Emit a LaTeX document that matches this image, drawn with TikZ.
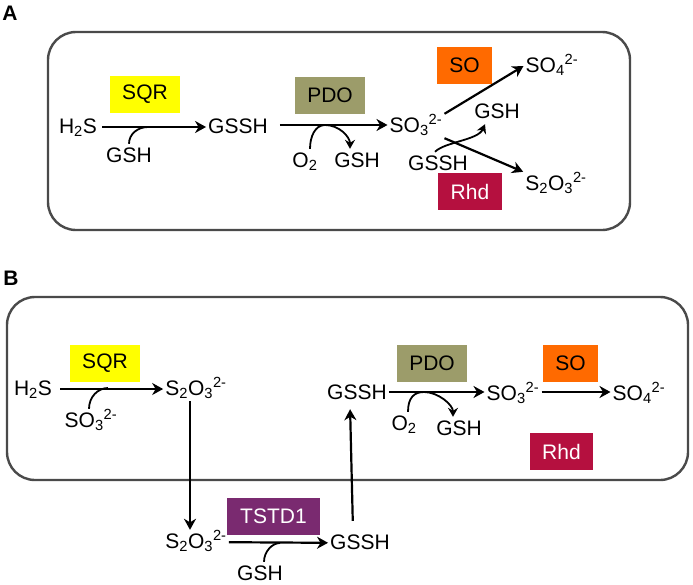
\documentclass[tikz,border=0pt]{standalone}
\usepackage{fontspec}
\setmainfont{Liberation Sans}
\usetikzlibrary{arrows.meta}
\definecolor{SqrYellow}{HTML}{FFFF00}
\definecolor{PdoOlive}{HTML}{9C9C6A}
\definecolor{SoOrange}{HTML}{FF6A00}
\definecolor{RhdCrimson}{HTML}{B5103F}
\definecolor{TstdPurple}{HTML}{7A2A70}
\definecolor{FrameGray}{HTML}{4A4A4A}

\begin{document}
\begin{tikzpicture}[x=1pt, y=-1pt,
  every node/.style={font=\fontsize{21}{25}\selectfont},
  chem/.style={inner sep=2pt, text height=16pt, text depth=4pt},
  enzyme/.style={minimum height=37pt, inner sep=0pt},
  panellabel/.style={font=\fontsize{21}{25}\selectfont\bfseries},
  flow/.style={line width=2.2pt, -{Stealth[length=11pt,width=12pt,inset=3.5pt]}},
  side/.style={line width=1.8pt},
  sidetip/.style={line width=1.8pt, -{Stealth[length=9pt,width=10pt,inset=3pt]}},
  panel/.style={draw=FrameGray, line width=2.4pt, rounded corners=28pt}]
  \useasboundingbox (0,0) rectangle (693,584);

  % panel A
  \draw[panel] (48,32) rectangle (630,230);
  \node[panellabel] (labA) at (10,13) {A};

  \node[enzyme, fill=SqrYellow, minimum width=70pt] (sqrA) at (145,94.5) {SQR};
  \node[enzyme, fill=PdoOlive, minimum width=70pt] (pdoA) at (330,95) {PDO};
  \node[enzyme, fill=SoOrange, minimum width=55pt] (soA) at (464.5,65) {SO};
  \node[enzyme, fill=RhdCrimson, text=white, minimum width=64pt] (rhdA) at (470,191.5) {Rhd};

  \node[chem] (h2sA) at (78,127) {H\textsubscript{2}S};
  \node[chem] (gsshA) at (238,127) {GSSH};
  \node[chem] (so3A) at (416,126) {SO\textsubscript{3}\textsuperscript{2-}};
  \node[chem] (so4A) at (552,66) {SO\textsubscript{4}\textsuperscript{2-}};
  \node[chem] (s2o3A) at (556,184) {S\textsubscript{2}O\textsubscript{3}\textsuperscript{2-}};
  \node[chem] (gshA) at (129,156) {GSH};
  \node[chem] (o2A) at (305,161) {O\textsubscript{2}};
  \node[chem] (gshAb) at (357,161) {GSH};
  \node[chem] (gshAc) at (497,112) {GSH};
  \node[chem] (gsshAb) at (438,164) {GSSH};

  \coordinate (sqrJoinA) at (148,127);
  \coordinate (pdoJoinA) at (325,125);

  \draw[flow, shorten <=3pt] (h2sA) -- (gsshA);
  \draw[flow, shorten <=10pt] (gsshA.east |- pdoJoinA) -- (so3A.west |- pdoJoinA);
  \draw[flow] (so3A.north east) -- (so4A.west);
  \draw[flow] (so3A.south east) -- (s2o3A.north west);

  \draw[side] (gshA.north) .. controls +(0,-10) and +(-10,0) .. (sqrJoinA);
  \draw[sidetip] ([xshift=5pt]o2A.north) .. controls +(0,-12) and +(-10,0) .. (pdoJoinA)
    .. controls +(14,0) and +(0,-12) .. ([xshift=-7pt]gshAb.north);
  \draw[sidetip] ([xshift=-3pt]gsshAb.north) .. controls +(10,-10) and +(-7,16) .. ([xshift=-12pt]gshAc.south);

  % panel B
  \draw[panel] (7,297) rectangle (688,480);
  \node[panellabel] (labB) at (11,278) {B};

  \node[enzyme, fill=SqrYellow, minimum width=70pt] (sqrB) at (105,363) {SQR};
  \node[enzyme, fill=PdoOlive, minimum width=70pt] (pdoB) at (432,363.5) {PDO};
  \node[enzyme, fill=SoOrange, minimum width=55pt] (soB) at (570.5,363.5) {SO};
  \node[enzyme, fill=RhdCrimson, text=white, minimum width=63pt] (rhdB) at (561.5,451.5) {Rhd};
  \node[enzyme, fill=TstdPurple, text=white, minimum width=93pt] (tstdB) at (273.5,516.5) {TSTD1};

  \node[chem] (h2sB) at (33,389) {H\textsubscript{2}S};
  \node[chem] (so3Ba) at (91,421) {SO\textsubscript{3}\textsuperscript{2-}};
  \node[chem] (s2o3Ba) at (196,389) {S\textsubscript{2}O\textsubscript{3}\textsuperscript{2-}};
  \node[chem] (s2o3Bb) at (196,542) {S\textsubscript{2}O\textsubscript{3}\textsuperscript{2-}};
  \node[chem] (gshB) at (260,574) {GSH};
  \node[chem] (gsshBb) at (360,543) {GSSH};
  \node[chem] (gsshB) at (357,393) {GSSH};
  \node[chem] (o2B) at (404,424) {O\textsubscript{2}};
  \node[chem] (gshBb) at (459,429) {GSH};
  \node[chem] (so3Bb) at (513,394) {SO\textsubscript{3}\textsuperscript{2-}};
  \node[chem] (so4B) at (639,394) {SO\textsubscript{4}\textsuperscript{2-}};

  \coordinate (sqrJoinB) at (108,388);
  \coordinate (tstdJoinB) at (280,543);
  \coordinate (pdoJoinB) at (424,392);

  \draw[flow, shorten <=6pt] (h2sB) -- (s2o3Ba);
  \draw[flow] ([xshift=-6pt]s2o3Ba.south) -- ([xshift=-6pt]s2o3Bb.north);
  \draw[flow] (s2o3Bb) -- (gsshBb);
  \draw[flow, shorten <=10pt, shorten >=4pt] ([xshift=-7pt]gsshBb.north) -- ([xshift=-7pt]gsshB.south);
  \draw[flow] (gsshB.east |- pdoJoinB) -- (so3Bb.west |- pdoJoinB);
  \draw[flow] (so3Bb.east |- pdoJoinB) -- (so4B.west |- pdoJoinB);

  \draw[side] ([xshift=-2pt]so3Ba.north) .. controls +(0,-12) and +(-10,0) .. (sqrJoinB);
  \draw[side] ([xshift=4pt]gshB.north) .. controls +(0,-10) and +(-8,0) .. (tstdJoinB);
  \draw[sidetip] ([xshift=4pt]o2B.north) .. controls +(0,-14) and +(-10,0) .. (pdoJoinB)
    .. controls +(14,0) and +(0,-12) .. ([xshift=-6pt]gshBb.north);
\end{tikzpicture}
\end{document}
